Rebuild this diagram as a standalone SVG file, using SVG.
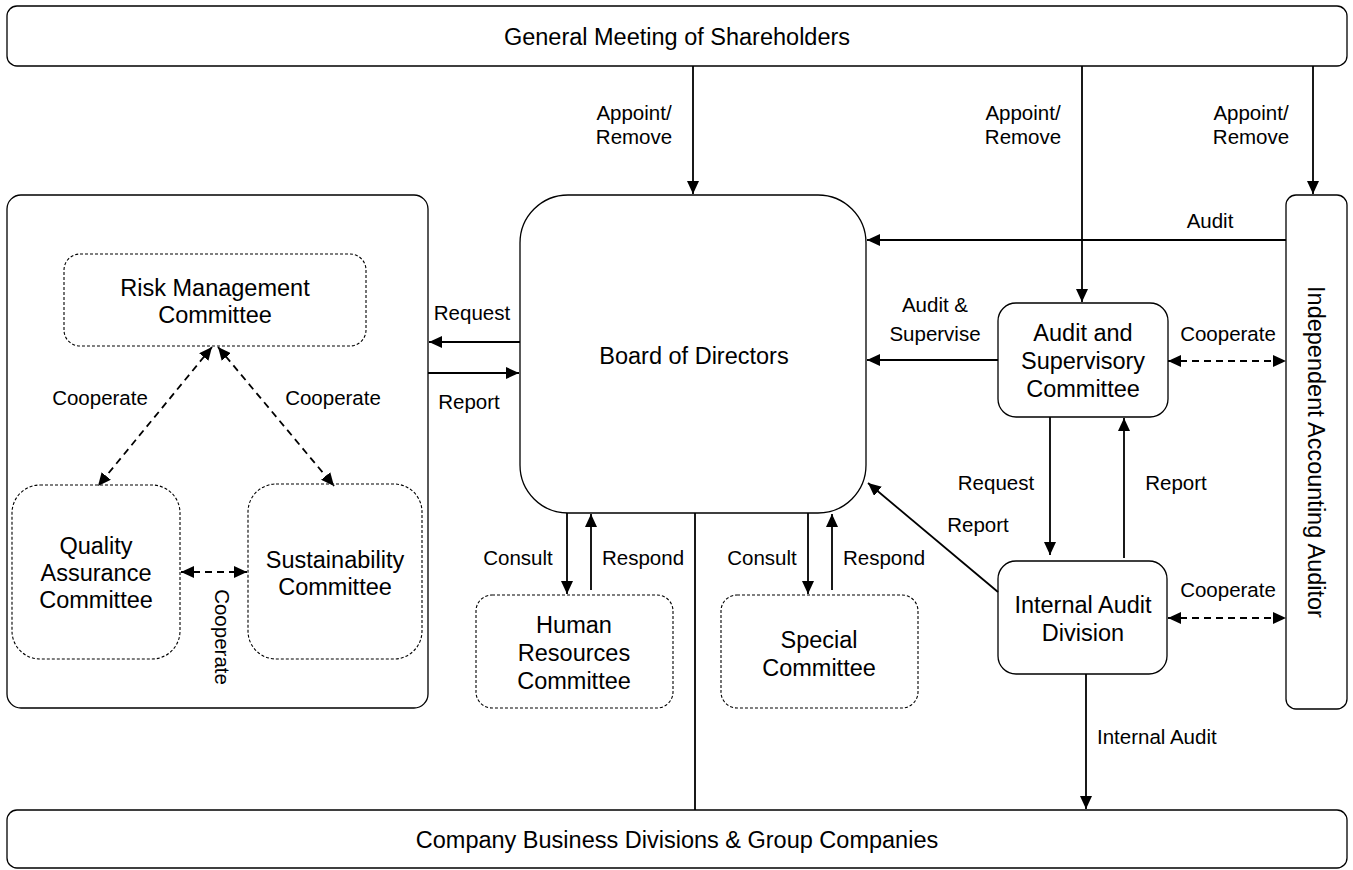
<svg xmlns="http://www.w3.org/2000/svg" width="1353" height="870" viewBox="0 0 1353 870">
<defs>
<marker id="ah" markerUnits="userSpaceOnUse" markerWidth="14" markerHeight="12" refX="13" refY="6" orient="auto-start-reverse">
<path d="M0,0 L13,6 L0,12 z" fill="#000"/>
</marker>
</defs>
<style>
.box{fill:#fff;stroke:#000;stroke-width:1.3}
.dbox{fill:#fff;stroke:#000;stroke-width:1.1;stroke-dasharray:3,2}
.n{font-family:"Liberation Sans",Arial,sans-serif;font-size:23.5px;fill:#000;text-anchor:middle}
.l{font-family:"Liberation Sans",Arial,sans-serif;font-size:20.5px;fill:#000;text-anchor:middle}
.c{fill:none;stroke:#000;stroke-width:1.8}
.a{marker-end:url(#ah)}
.d{stroke-dasharray:7,5;marker-start:url(#ah);marker-end:url(#ah)}
</style>
<rect width="1353" height="870" fill="#fff"/>

<g id="gms">
<rect class="box" x="7" y="6" width="1340" height="60" rx="10"/>
<text class="n" x="677" y="45">General Meeting of Shareholders</text>
</g>
<g id="bottom">
<rect class="box" x="7" y="810" width="1340" height="58" rx="10"/>
<text class="n" x="677" y="848">Company Business Divisions &amp; Group Companies</text>
</g>
<g id="committees-group">
<rect class="box" x="7" y="195" width="421" height="513" rx="14"/>
</g>
<g id="rmc">
<rect class="dbox" x="64" y="254" width="302" height="92" rx="16"/>
<text class="n" x="215" y="296">Risk Management</text>
<text class="n" x="215" y="323">Committee</text>
</g>
<g id="qac">
<rect class="dbox" x="12" y="485" width="168" height="174" rx="28"/>
<text class="n" x="96" y="554">Quality</text>
<text class="n" x="96" y="581">Assurance</text>
<text class="n" x="96" y="608">Committee</text>
</g>
<g id="sc">
<rect class="dbox" x="248" y="484" width="174" height="175" rx="28"/>
<text class="n" x="335" y="568">Sustainability</text>
<text class="n" x="335" y="595">Committee</text>
</g>
<g id="board">
<rect class="box" x="520" y="195" width="346" height="318" rx="48"/>
<text class="n" x="694" y="364">Board of Directors</text>
</g>
<g id="hrc">
<rect class="dbox" x="476" y="595" width="197" height="113" rx="16"/>
<text class="n" x="574" y="633">Human</text>
<text class="n" x="574" y="661">Resources</text>
<text class="n" x="574" y="689">Committee</text>
</g>
<g id="spc">
<rect class="dbox" x="721" y="595" width="197" height="113" rx="16"/>
<text class="n" x="819" y="648">Special</text>
<text class="n" x="819" y="676">Committee</text>
</g>
<g id="asc">
<rect class="box" x="998" y="303" width="170" height="114" rx="18"/>
<text class="n" x="1083" y="341">Audit and</text>
<text class="n" x="1083" y="369">Supervisory</text>
<text class="n" x="1083" y="397">Committee</text>
</g>
<g id="iad">
<rect class="box" x="998" y="561" width="169" height="113" rx="18"/>
<text class="n" x="1083" y="613">Internal Audit</text>
<text class="n" x="1083" y="641">Division</text>
</g>
<g id="iaa">
<rect class="box" x="1286" y="195" width="61" height="514" rx="10"/>
<text class="n" transform="translate(1308,452) rotate(90)" x="0" y="0">Independent Accounting Auditor</text>
</g>

<g id="connectors">
<path class="c a" d="M693,66 V194"/>
<path class="c a" d="M1082,66 V302"/>
<path class="c a" d="M1313,66 V194"/>
<path class="c a" d="M1286,240 H867"/>
<path class="c a" d="M998,360 H867"/>
<path class="c d" d="M1168,361 H1286"/>
<path class="c a" d="M1050,417 V555"/>
<path class="c a" d="M1124,558 V418"/>
<path class="c a" d="M998,592 L868,483"/>
<path class="c d" d="M1168,618 H1286"/>
<path class="c a" d="M1086,674 V809"/>
<path class="c" d="M695,513 V810"/>
<path class="c a" d="M567,513 V594"/>
<path class="c a" d="M591,590 V514"/>
<path class="c a" d="M808,513 V594"/>
<path class="c a" d="M832,590 V514"/>
<path class="c a" d="M520,342 H429"/>
<path class="c a" d="M428,373 H519"/>
<path class="c d" d="M212,347 L98,486"/>
<path class="c d" d="M218,347 L334,486"/>
<path class="c d" d="M181,572 H247"/>

<text class="l" x="634" y="120">Appoint/</text>
<text class="l" x="634" y="144">Remove</text>
<text class="l" x="1023" y="120">Appoint/</text>
<text class="l" x="1023" y="144">Remove</text>
<text class="l" x="1251" y="120">Appoint/</text>
<text class="l" x="1251" y="144">Remove</text>
<text class="l" x="1210" y="228">Audit</text>
<text class="l" x="935" y="312">Audit &amp;</text>
<text class="l" x="935" y="341">Supervise</text>
<text class="l" x="1228" y="341">Cooperate</text>
<text class="l" x="996" y="490">Request</text>
<text class="l" x="1176" y="490">Report</text>
<text class="l" x="978" y="532">Report</text>
<text class="l" x="1228" y="597">Cooperate</text>
<text class="l" x="1097" y="744" style="text-anchor:start">Internal Audit</text>
<text class="l" x="518" y="565">Consult</text>
<text class="l" x="643" y="565">Respond</text>
<text class="l" x="762" y="565">Consult</text>
<text class="l" x="884" y="565">Respond</text>
<text class="l" x="472" y="320">Request</text>
<text class="l" x="469" y="409">Report</text>
<text class="l" x="100" y="405">Cooperate</text>
<text class="l" x="333" y="405">Cooperate</text>
<text class="l" transform="translate(215,637) rotate(90)" x="0" y="0">Cooperate</text>
</g>
</svg>
